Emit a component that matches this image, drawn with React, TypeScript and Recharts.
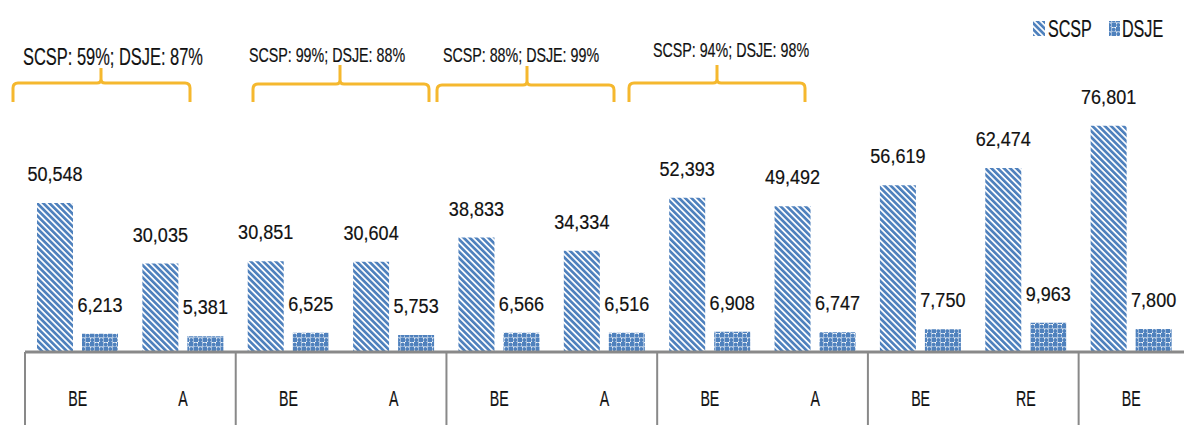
import { BarChart, Bar, XAxis, YAxis, LabelList } from 'recharts';

const CATEGORIES = ['BE', 'A', 'BE', 'A', 'BE', 'A', 'BE', 'A', 'BE', 'RE', 'BE'];
const SCSP = [50548, 30035, 30851, 30604, 38833, 34334, 52393, 49492, 56619, 62474, 76801];
const DSJE = [6213, 5381, 6525, 5753, 6566, 6516, 6908, 6747, 7750, 9963, 7800];
const BRACKET_LABELS = [
  'SCSP: 59%; DSJE: 87%',
  'SCSP: 99%; DSJE: 88%',
  'SCSP: 88%; DSJE: 99%',
  'SCSP: 94%; DSJE: 98%',
];

const data = CATEGORIES.map((c, i) => ({ key: `c${i}`, label: c, SCSP: SCSP[i], DSJE: DSJE[i] }));

const W = 1184;
const H = 425;
const LEFT = 25;
const TOP = 28;
const AXIS_H = 73;
const PLOT_BOTTOM = H - AXIS_H;
const STEP = (W - LEFT) / CATEGORIES.length;

const BLUE = '#4f81bd';
const ORANGE = '#f5b82e';
const GRAY = '#898989';
const FONT = "'Liberation Sans', Arial, sans-serif";

// bracket geometry (annotation overlay, pixels)
const BRACKETS = [
  { x1: 13, x2: 190, xm: 101, yh: 83, yt: 68, tx: 113, ty: 65, fs: 24, sx: 0.685 },
  { x1: 253, x2: 429, xm: 340, yh: 84, yt: 65, tx: 327, ty: 62, fs: 21, sx: 0.68 },
  { x1: 437, x2: 614, xm: 527, yh: 85, yt: 66, tx: 521, ty: 62, fs: 21, sx: 0.68 },
  { x1: 629, x2: 805, xm: 717, yh: 83, yt: 65, tx: 731, ty: 57, fs: 21, sx: 0.68 },
];
const BRACKET_BOTTOM = 102;

// condensed text: regular font squeezed horizontally
function Txt({
  x,
  y,
  size,
  sx,
  anchor = 'middle',
  children,
}: {
  x: number;
  y: number;
  size: number;
  sx: number;
  anchor?: 'start' | 'middle' | 'end';
  children: React.ReactNode;
}) {
  return (
    <text
      transform={`translate(${x} ${y}) scale(${sx} 1)`}
      textAnchor={anchor}
      fontFamily={FONT}
      fontSize={size}
      fill="#111"
      stroke="#111"
      strokeWidth={0.2}
    >
      {children}
    </text>
  );
}

function Patterns({ prefix }: { prefix: string }) {
  return (
    <defs>
      <pattern
        id={`${prefix}-scsp`}
        width="4.4"
        height="4.4"
        patternUnits="userSpaceOnUse"
        patternTransform="rotate(-45)"
      >
        <rect x="0" y="0" width="4.4" height="4.4" fill="#fff" />
        <rect x="0" y="0" width="2.7" height="4.4" fill={BLUE} />
      </pattern>
      <pattern id={`${prefix}-dsje`} width="9" height="9" patternUnits="userSpaceOnUse">
        <rect x="0" y="0" width="9" height="9" fill="#fff" />
        <rect x="0" y="0" width="4.5" height="4.5" fill={BLUE} />
        <rect x="4.5" y="4.5" width="4.5" height="4.5" fill={BLUE} />
        <circle cx="6.75" cy="2.6" r="2" fill={BLUE} />
        <circle cx="2.25" cy="7.1" r="2" fill={BLUE} />
      </pattern>
    </defs>
  );
}

function ValueLabel(props: any) {
  const { x, y, width, value } = props;
  return (
    <Txt x={Number(x) + Number(width) / 2} y={Number(y) - 22} size={21} sx={0.86}>
      {Number(value).toLocaleString('en-US')}
    </Txt>
  );
}

function CategoryTick(props: any) {
  const { x, payload } = props;
  const idx = payload?.index ?? props.index ?? 0;
  return (
    <g>
      {idx % 2 === 0 && (
        <line x1={x - STEP / 2} x2={x - STEP / 2} y1={PLOT_BOTTOM} y2={H} stroke={GRAY} strokeWidth={2} />
      )}
      <Txt x={x} y={406} size={21.5} sx={0.66}>
        {CATEGORIES[idx]}
      </Txt>
    </g>
  );
}

function bracketPath(b: (typeof BRACKETS)[number]) {
  const r = 5;
  const c = 4;
  return [
    `M ${b.x1} ${BRACKET_BOTTOM} L ${b.x1} ${b.yh + r} Q ${b.x1} ${b.yh} ${b.x1 + r} ${b.yh}`,
    `L ${b.xm - c} ${b.yh} Q ${b.xm} ${b.yh} ${b.xm} ${b.yh - c} L ${b.xm} ${b.yt}`,
    `M ${b.xm} ${b.yh - c} Q ${b.xm} ${b.yh} ${b.xm + c} ${b.yh}`,
    `L ${b.x2 - r} ${b.yh} Q ${b.x2} ${b.yh} ${b.x2} ${b.yh + r} L ${b.x2} ${BRACKET_BOTTOM}`,
  ].join(' ');
}

export default function App() {
  return (
    <div style={{ position: 'absolute', left: 0, top: 0, width: W, height: H, background: '#fff' }}>
      <BarChart
        width={W}
        height={H}
        data={data}
        margin={{ top: TOP, right: 0, bottom: 0, left: LEFT }}
        barCategoryGap={12}
        barGap={9}
      >
        <Patterns prefix="bar" />
        <XAxis
          dataKey="key"
          height={AXIS_H}
          axisLine={{ stroke: GRAY, strokeWidth: 3 }}
          tickLine={false}
          tick={<CategoryTick />}
          interval={0}
        />
        <YAxis hide domain={[0, 110000]} />
        <Bar dataKey="SCSP" fill="url(#bar-scsp)" isAnimationActive={false}>
          <LabelList dataKey="SCSP" content={<ValueLabel />} />
        </Bar>
        <Bar dataKey="DSJE" fill="url(#bar-dsje)" isAnimationActive={false}>
          <LabelList dataKey="DSJE" content={<ValueLabel />} />
        </Bar>
      </BarChart>
      <svg
        width={W}
        height={H}
        style={{ position: 'absolute', left: 0, top: 0, pointerEvents: 'none' }}
      >
        <Patterns prefix="lg" />
        {BRACKETS.map((b, i) => (
          <g key={i}>
            <path d={bracketPath(b)} fill="none" stroke={ORANGE} strokeWidth={3} />
            <Txt x={b.tx} y={b.ty} size={b.fs} sx={b.sx}>
              {BRACKET_LABELS[i]}
            </Txt>
          </g>
        ))}
        <rect x={1033} y={21} width={12} height={15} fill="url(#lg-scsp)" />
        <Txt x={1048} y={37} size={23} sx={0.7} anchor="start">
          SCSP
        </Txt>
        <rect x={1109} y={21} width={11} height={15} fill="url(#lg-dsje)" />
        <Txt x={1122} y={37} size={23} sx={0.7} anchor="start">
          DSJE
        </Txt>
      </svg>
    </div>
  );
}
